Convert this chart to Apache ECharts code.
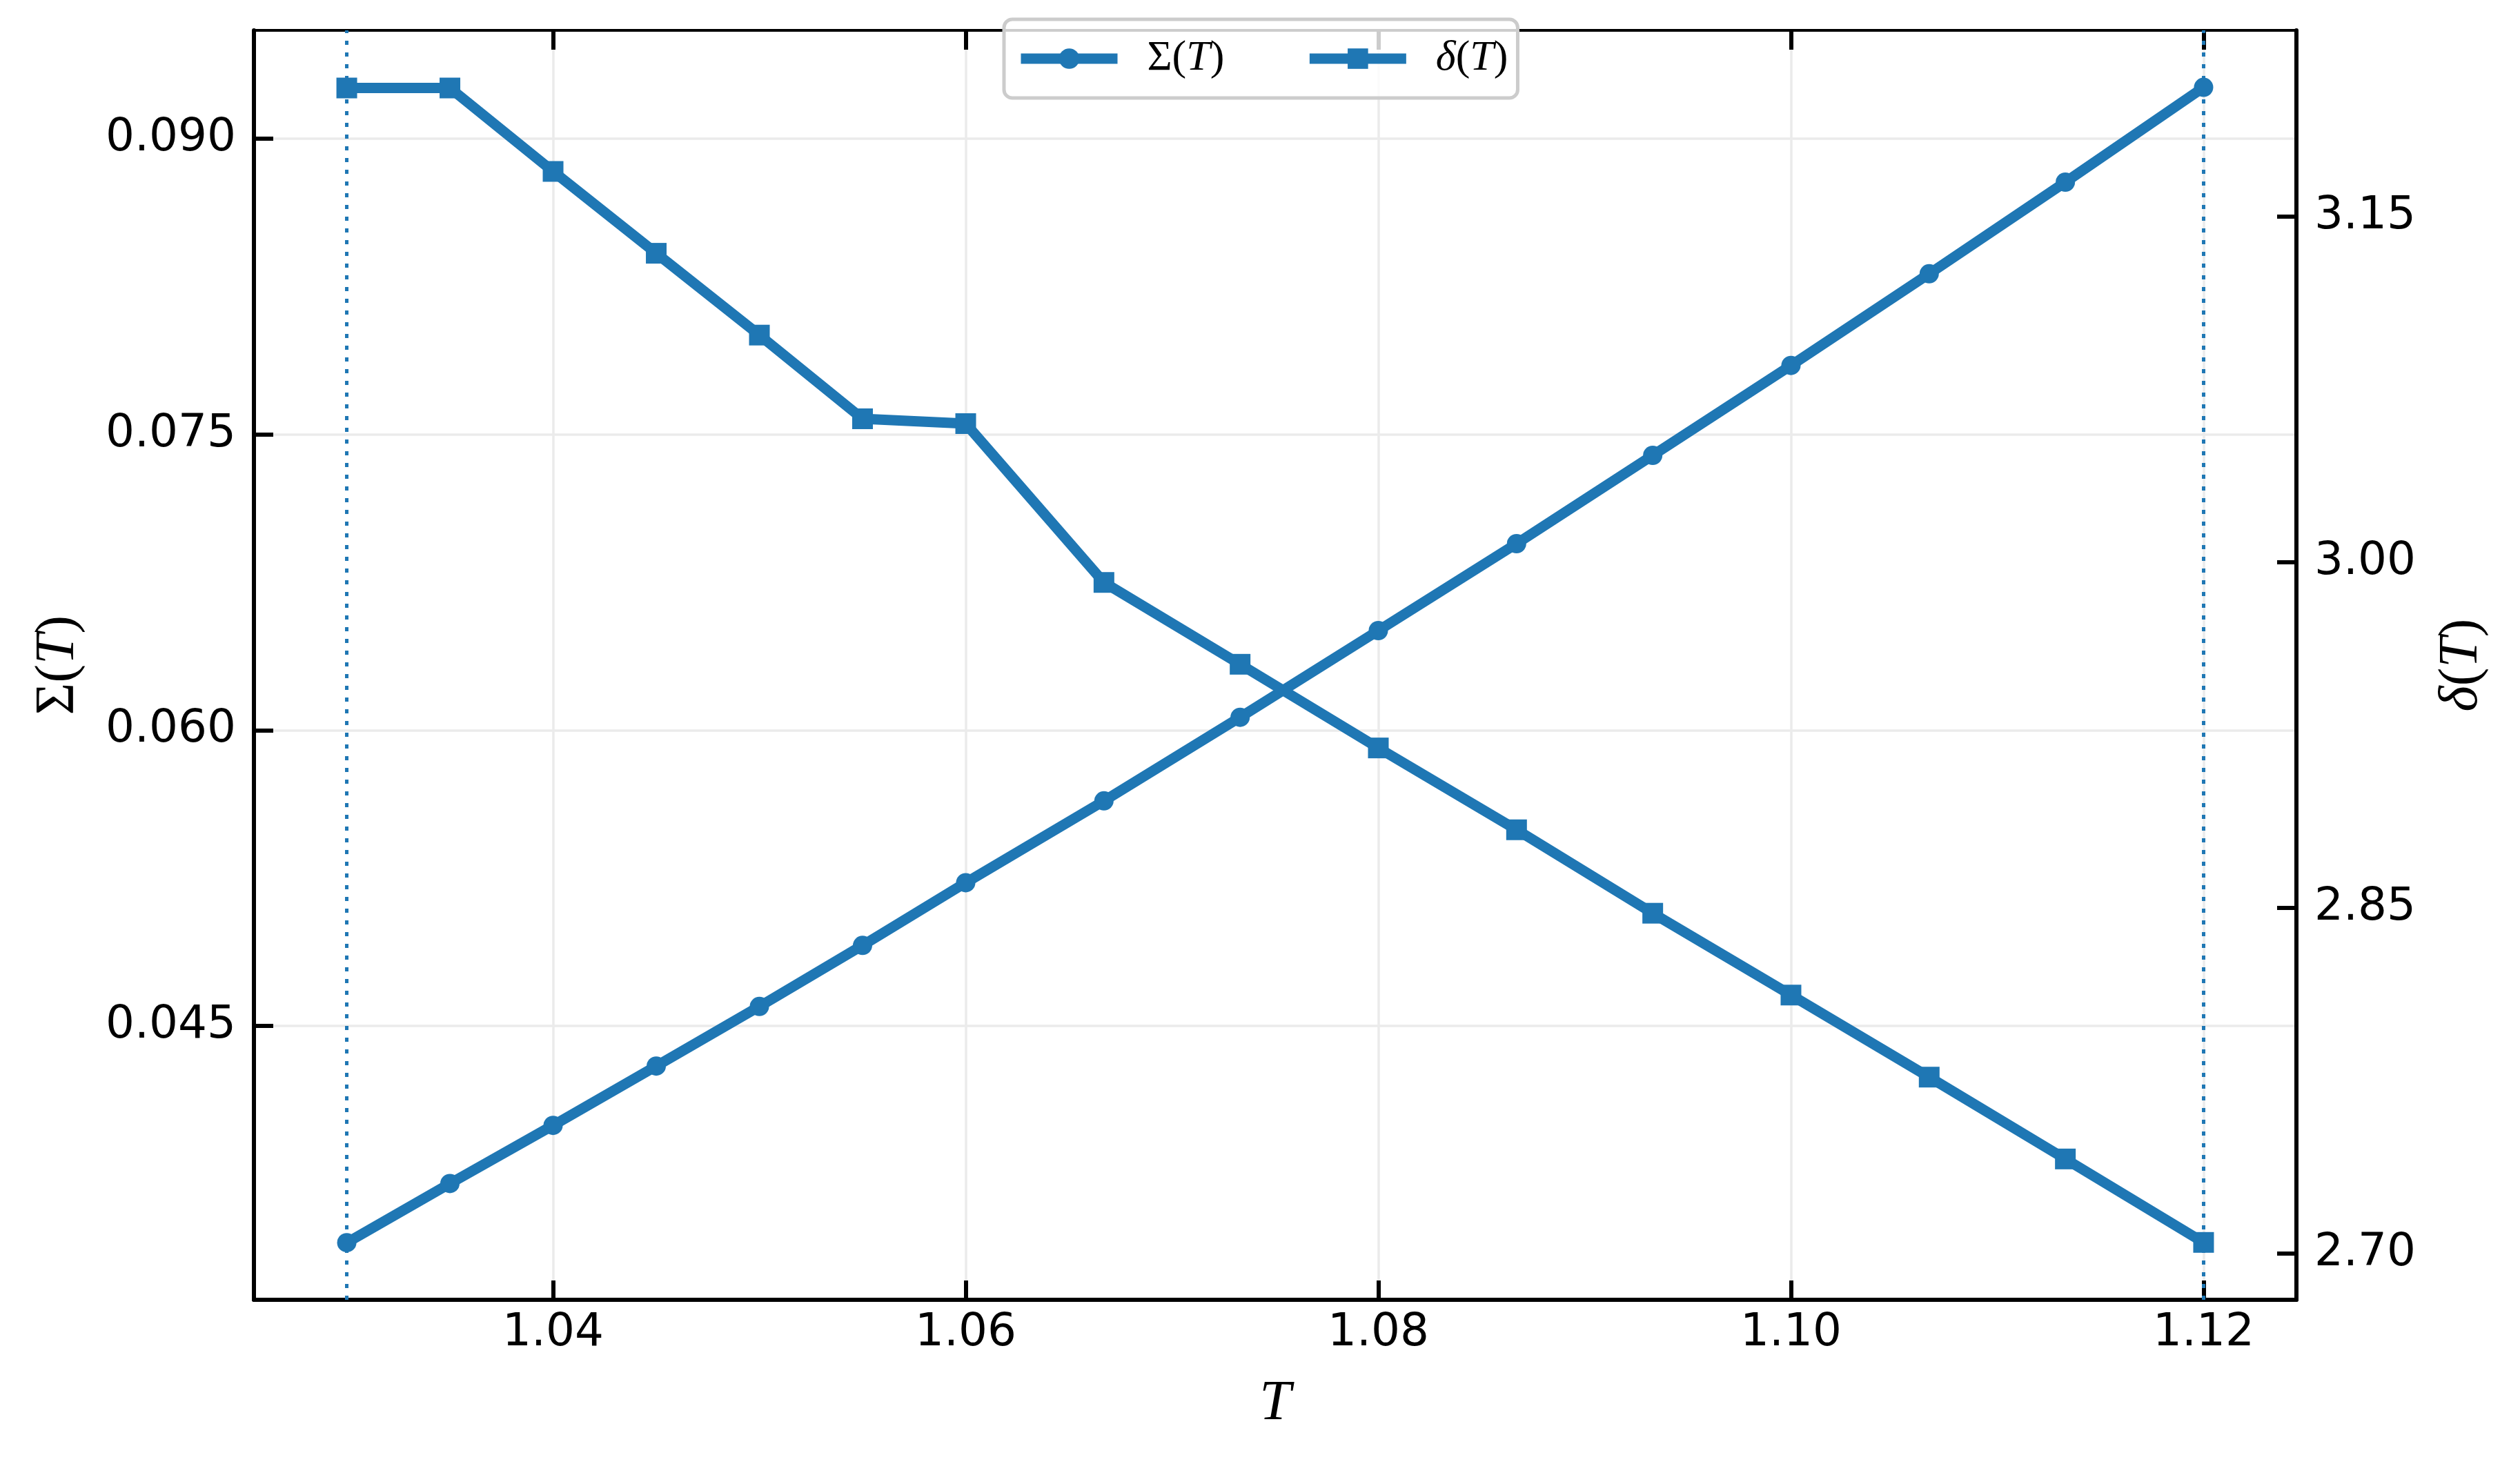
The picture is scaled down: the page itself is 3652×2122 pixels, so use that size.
<!DOCTYPE html>
<html>
<head>
<meta charset="utf-8">
<script src="https://cdn.jsdelivr.net/npm/echarts@6/dist/echarts.min.js"></script>
<style>
html,body{margin:0;padding:0;background:#fff}
#chart{width:3652px;height:2122px}
</style>
</head>
<body>
<div id="chart"></div>
<script>
// temperatures and the two measured quantities
const temps = [1.03, 1.035, 1.04, 1.045, 1.05, 1.055, 1.06, 1.0667, 1.0733, 1.08, 1.0867, 1.0933, 1.10, 1.1067, 1.1133, 1.12];
const sigma = [0.0340, 0.0370, 0.03995, 0.04296, 0.04598, 0.04908, 0.05226, 0.05641, 0.06065, 0.06505, 0.06946, 0.07394, 0.07850, 0.08315, 0.08780, 0.09261];
const delta = [3.2057, 3.2057, 3.1695, 3.1340, 3.0985, 3.0622, 3.0601, 2.9912, 2.9557, 2.9194, 2.8839, 2.8477, 2.8122, 2.7766, 2.7411, 2.7049];

const xTicks = [1.04, 1.06, 1.08, 1.10, 1.12];
const sigmaTicks = [0.045, 0.060, 0.075, 0.090];
const deltaTicks = [2.70, 2.85, 3.00, 3.15];
const boundaryT = [1.03, 1.12];

const blue = '#1f77b4';
const tickFont = 'DejaVu Sans';
const mathFont = 'Liberation Serif';

function pairs(xs, ys) {
    return xs.map((x, i) => [x, ys[i]]);
}

const mathRich = {
    n: { fontFamily: mathFont, fontSize: 80, color: '#000' },
    i: { fontFamily: mathFont, fontSize: 80, fontStyle: 'italic', color: '#000' }
};
const legendRich = {
    n: { fontFamily: mathFont, fontSize: 62, color: '#000' },
    i: { fontFamily: mathFont, fontSize: 62, fontStyle: 'italic', color: '#000' }
};

let myChart = echarts.init(document.getElementById('chart'), null, { renderer: 'canvas' });

let option = {
    backgroundColor: '#fff',
    animation: false,
    grid: { left: 368, right: 324, top: 44, bottom: 238 },
    legend: {
        left: 1455,
        top: 28,
        padding: [26, 14, 26, 17],
        itemWidth: 140,
        itemHeight: 37,
        itemGap: 116,
        backgroundColor: 'rgba(255,255,255,0.8)',
        borderColor: '#cccccc',
        borderWidth: 5,
        borderRadius: 12,
        lineStyle: { width: 15 },
        textStyle: { padding: [0, 0, 0, 38], lineHeight: 62, rich: legendRich },
        formatter: function (name) {
            return name === 'sigma' ? '{n|Σ(}{i|T}{n|)}' : '{i|δ}{n|(}{i|T}{n|)}';
        },
        data: ['sigma', 'delta']
    },
    xAxis: [{
        type: 'value',
        position: 'bottom',
        min: 1.0255,
        max: 1.1245,
        name: 'T',
        nameLocation: 'middle',
        nameGap: 110,
        nameTextStyle: { fontFamily: mathFont, fontStyle: 'italic', fontSize: 82, color: '#000' },
        axisLine: { show: true, onZero: false, lineStyle: { color: '#000', width: 6 } },
        axisTick: { show: true, inside: true, length: 28, customValues: xTicks, lineStyle: { color: '#000', width: 6 } },
        axisLabel: { customValues: xTicks, margin: 16, fontFamily: tickFont, fontSize: 66, color: '#000',
            formatter: v => v.toFixed(2) },
        splitLine: { show: true, lineStyle: { color: '#ebebeb', width: 3.5 } }
    }, {
        type: 'value',
        position: 'top',
        min: 1.0255,
        max: 1.1245,
        axisLine: { show: true, onZero: false, lineStyle: { color: '#000', width: 4 } },
        axisTick: { show: true, inside: true, length: 28, customValues: xTicks, lineStyle: { color: '#000', width: 6 } },
        axisLabel: { show: false },
        splitLine: { show: false }
    }],
    yAxis: [{
        type: 'value',
        position: 'left',
        min: 0.0311,
        max: 0.0955,
        name: '{n|Σ(}{i|T}{n|)}',
        nameLocation: 'middle',
        nameRotate: 90,
        nameGap: 243,
        nameTextStyle: { rich: mathRich },
        axisLine: { show: true, onZero: false, lineStyle: { color: '#000', width: 6 } },
        axisTick: { show: true, inside: true, length: 28, customValues: sigmaTicks, lineStyle: { color: '#000', width: 6 } },
        axisLabel: { customValues: sigmaTicks, margin: 26, fontFamily: tickFont, fontSize: 66, color: '#000',
            formatter: v => v.toFixed(3) },
        splitLine: { show: true, lineStyle: { color: '#ebebeb', width: 3.5 } }
    }, {
        type: 'value',
        position: 'right',
        min: 2.680,
        max: 3.2307,
        name: '{i|δ}{n|(}{i|T}{n|)}',
        nameLocation: 'middle',
        nameRotate: 90,
        nameGap: 200,
        nameTextStyle: { rich: mathRich },
        axisLine: { show: true, onZero: false, lineStyle: { color: '#000', width: 6 } },
        axisTick: { show: true, inside: true, length: 28, customValues: deltaTicks, lineStyle: { color: '#000', width: 6 } },
        axisLabel: { customValues: deltaTicks, margin: 26, fontFamily: tickFont, fontSize: 66, color: '#000',
            formatter: v => v.toFixed(2) },
        splitLine: { show: false }
    }],
    series: [{
        name: 'sigma',
        type: 'line',
        xAxisIndex: 0,
        yAxisIndex: 0,
        data: pairs(temps, sigma),
        symbol: 'circle',
        symbolSize: 28,
        lineStyle: { color: blue, width: 15 },
        itemStyle: { color: blue },
        markLine: {
            silent: true,
            symbol: 'none',
            label: { show: false },
            lineStyle: { color: blue, width: 5, type: [6, 11], cap: 'butt' },
            data: boundaryT.map(t => ({ xAxis: t }))
        }
    }, {
        name: 'delta',
        type: 'line',
        xAxisIndex: 0,
        yAxisIndex: 1,
        data: pairs(temps, delta),
        symbol: 'rect',
        symbolSize: 30,
        lineStyle: { color: blue, width: 15 },
        itemStyle: { color: blue }
    }]
};

myChart.setOption(option);
window.onresize = function () {
    myChart.resize();
};
</script>
</body>
</html>
